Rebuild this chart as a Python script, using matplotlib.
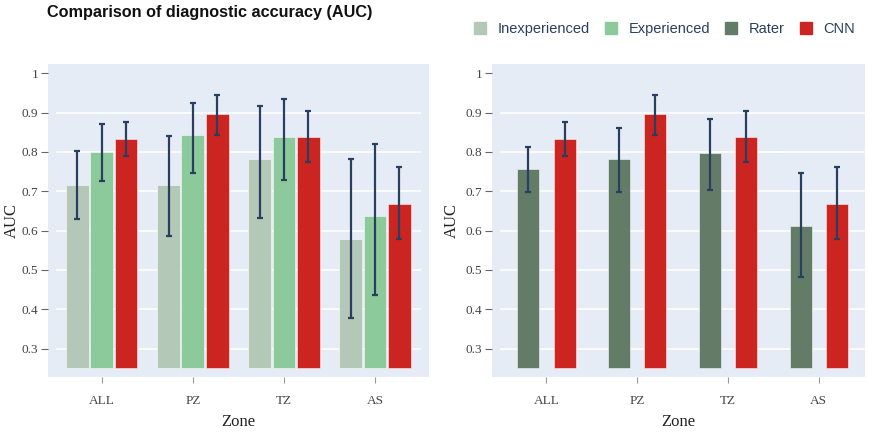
import numpy as np
import matplotlib
matplotlib.use("Agg")
import matplotlib.pyplot as plt
from matplotlib.lines import Line2D

zones = ["ALL", "PZ", "TZ", "AS"]

# left panel: readers split by experience vs CNN
inexp_auc = [0.716, 0.716, 0.782, 0.580]
inexp_lo = [0.629, 0.586, 0.633, 0.378]
inexp_hi = [0.803, 0.841, 0.916, 0.782]

exp_auc = [0.800, 0.843, 0.838, 0.636]
exp_lo = [0.726, 0.747, 0.730, 0.437]
exp_hi = [0.871, 0.925, 0.935, 0.820]

cnn_auc = [0.832, 0.896, 0.837, 0.669]
cnn_lo = [0.789, 0.842, 0.775, 0.579]
cnn_hi = [0.876, 0.946, 0.903, 0.762]

# right panel: all raters pooled
rater_auc = [0.757, 0.782, 0.798, 0.611]
rater_lo = [0.699, 0.698, 0.704, 0.482]
rater_hi = [0.813, 0.862, 0.883, 0.746]

yticks = [0.3, 0.4, 0.5, 0.6, 0.7, 0.8, 0.9, 1.0]
ytick_labels = ["0.3", "0.4", "0.5", "0.6", "0.7", "0.8", "0.9", "1"]

base = 0.25
col_inexp = "#b4c8b8"
col_exp = "#8dca9b"
col_rater = "#627c68"
col_cnn = "#cc2420"
err_col = "#2a3f5f"
bg = "#e5ecf6"

fig = plt.figure(figsize=(8.7, 4.33), dpi=100)
ax1 = fig.add_axes([48/870, 1-377/433, 381/870, 313/433])
ax2 = fig.add_axes([492/870, 1-377/433, 373/870, 313/433])

x = np.arange(len(zones))


def draw_bars(ax, offset, width, vals, lo, hi, color):
    vals = np.array(vals)
    yerr = [vals - np.array(lo), np.array(hi) - vals]
    ax.bar(x + offset, vals - base, width, bottom=base, color=color,
           edgecolor=(1, 1, 1, 0.6), linewidth=0.6, zorder=2)
    ax.errorbar(x + offset, vals, yerr=yerr, fmt="none", ecolor=err_col,
                elinewidth=1.6, capsize=2.5, capthick=1.6, zorder=3)


w = 0.8 / 3
draw_bars(ax1, -w, 0.25, inexp_auc, inexp_lo, inexp_hi, col_inexp)
draw_bars(ax1, 0, 0.25, exp_auc, exp_lo, exp_hi, col_exp)
draw_bars(ax1, w, 0.25, cnn_auc, cnn_lo, cnn_hi, col_cnn)

draw_bars(ax2, -0.2, 0.242, rater_auc, rater_lo, rater_hi, col_rater)
draw_bars(ax2, 0.2, 0.242, cnn_auc, cnn_lo, cnn_hi, col_cnn)

for ax, xl, gx, ylx in [(ax1, (-0.59, 3.592), (0.024, 0.976), -0.095),
                        (ax2, (-0.599, 3.51), (0.024, 0.997), -0.107)]:
    ax.set_facecolor(bg)
    for s in ax.spines.values():
        s.set_visible(False)
    ax.set_xlim(*xl)
    ax.set_ylim(0.228, 1.0236)
    for yv in yticks[:-1]:
        ax.axhline(yv, xmin=gx[0], xmax=gx[1], color="white", lw=1.2, zorder=1)
    ax.set_yticks(yticks)
    ax.set_yticklabels(ytick_labels, family="Liberation Serif", fontsize=9.5, color="#444444")
    ax.set_xticks(x)
    ax.set_xticklabels(zones, family="Liberation Serif", fontsize=9.5, color="#444444")
    ax.tick_params(axis="y", length=5, width=0.8, color="#666666", pad=2)
    ax.tick_params(axis="x", length=4, width=0.8, color="#999999", pad=9)
    ax.set_ylabel("AUC", family="Liberation Serif", fontsize=12, color="#222222", va="center")
    ax.yaxis.set_label_coords(ylx, 0.5)
    ax.set_xlabel("Zone", family="Liberation Serif", fontsize=12, color="#222222", va="center")
    ax.xaxis.set_label_coords(0.5, -0.143)

fig.text(47/870, 1-12/433, "Comparison of diagnostic accuracy (AUC)",
         family="Liberation Sans", fontweight="bold", fontsize=11.7,
         va="center", ha="left", color="#111111")

labels = ["Inexperienced", "Experienced", "Rater", "CNN"]
colors = [col_inexp, col_exp, col_rater, col_cnn]
handles = [Line2D([], [], marker="s", linestyle="none", markersize=8,
                  markerfacecolor=c, markeredgecolor=c) for c in colors]
leg = fig.legend(handles, labels, loc="center left", bbox_to_anchor=(467/870, 1-29/433),
                 ncol=4, frameon=False, borderpad=0, handlelength=0.8,
                 handletextpad=0.8, columnspacing=1.05,
                 prop={"family": "Liberation Sans", "size": 10.5})
for t in leg.get_texts():
    t.set_color(err_col)

fig.savefig("out.png", dpi=100)
